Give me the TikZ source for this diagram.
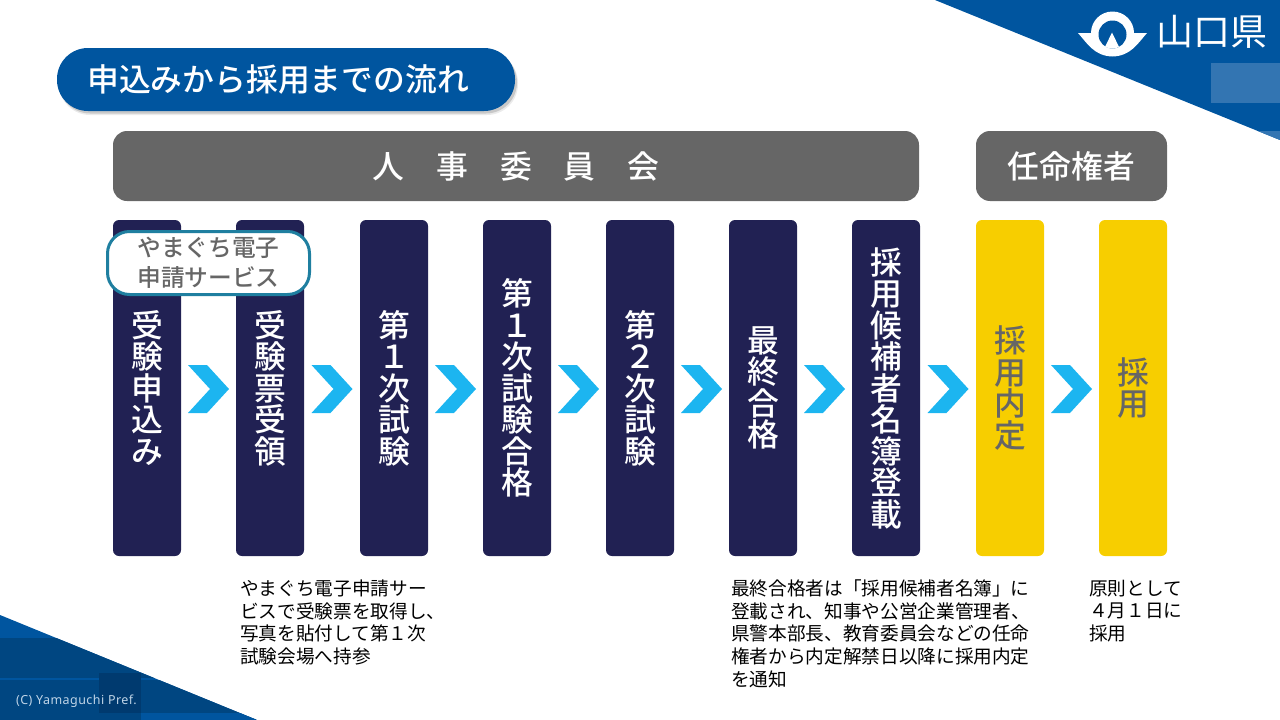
\documentclass[tikz,border=0pt]{standalone}
\usepackage{fontspec}
\setmainfont{Noto Sans CJK JP}[BoldFont={Noto Sans CJK JP Medium}]
\newfontfamily\latinf{Noto Sans}[LetterSpace=3.6]
\usetikzlibrary{calc}
\definecolor{yblue}{HTML}{00559F}
\definecolor{ylight}{HTML}{3375B2}
\definecolor{ydark}{HTML}{004681}
\definecolor{ydarker}{HTML}{003A6F}
\definecolor{navybox}{HTML}{212153}
\definecolor{yellowbox}{HTML}{F7CE00}
\definecolor{graybox}{HTML}{666666}
\definecolor{chev}{HTML}{1CB5F0}
\definecolor{teal}{HTML}{1F7FA0}
\newcommand{\tightlines}{\lineskiplimit=-100pt\relax}
\tikzset{
  x=1pt,y=-1pt,
  bigfont/.style={font=\fontsize{31.8}{31.5}\selectfont\bfseries\tightlines},
  stepbox/.style={bigfont,minimum width=68pt,minimum height=336pt,inner sep=0pt,rounded corners=6pt,align=center},
  navy/.style={stepbox,fill=navybox,text=white},
  gold/.style={stepbox,fill=yellowbox,text=graybox},
  header/.style={fill=graybox,text=white,rounded corners=14pt,inner sep=0pt,minimum height=70pt,bigfont},
  note/.style={anchor=north west,inner sep=0pt,align=left,text=black,font=\fontsize{18.65}{22.7}\selectfont\tightlines},
  chevron/.pic={\fill[chev] (-20.5,-24) -- (-1.5,-24) -- (20.5,0) -- (-1.5,24) -- (-20.5,24) -- (1.5,0) -- cycle;}
}
\begin{document}
\begin{tikzpicture}
\useasboundingbox (0,0) rectangle (1280,720);
% top right corner
\begin{scope}
\clip (935,0) -- (1280,140) -- (1280,0) -- cycle;
\fill[yblue] (900,0) rectangle (1280,140);
\fill[ylight] (1211,63) rectangle (1280,103);
\fill[ylight] (1211,131) rectangle (1280,145);
\end{scope}
% logo
\fill[white] (1078,33) -- (1091,33) arc[start angle=180,end angle=360,radius=21.5] -- (1147,33)
  .. controls (1138,43) and (1131,56) .. (1112.5,56.5) .. controls (1094,56) and (1087,43) .. cycle;
\fill[yblue] (1112.5,34.5) circle[radius=14];
\fill[white] (1112,32.5) -- (1119,47) .. controls (1115,49) and (1110,49) .. (1105,47) -- cycle;
\node[inner sep=0pt,text=white,font=\fontsize{37}{37}\selectfont] (logotext) at (1212,32) {山口県};
% bottom left corner
\begin{scope}
\clip (0,615) -- (257,720) -- (0,720) -- cycle;
\fill[yblue] (0,610) rectangle (257,720);
\fill[ydark] (0,638) rectangle (257,678);
\fill[ydark] (0,680) rectangle (257,720);
\fill[ydarker] (99,673) rectangle (141,713);
\fill[yblue] (141,713) rectangle (257,720);
\end{scope}
\node[inner sep=0pt,anchor=west,text=white!75!yblue,font=\latinf\fontsize{12.5}{12.5}\selectfont] (copy) at (16,701) {(C) Yamaguchi Pref.};
% title
\fill[black,opacity=.08,rounded corners=31pt] (59,52) rectangle (518,115);
\fill[black,opacity=.15,rounded corners=31pt] (59,51) rectangle (517,113.5);
\node[fill=yblue,text=white,rounded corners=31pt,minimum width=458pt,minimum height=63pt,inner sep=0pt,
  bigfont] (title) at (286,79.5) {申込みから採用までの流れ\hspace*{16pt}};
% headers
\node[header,minimum width=806pt] (h1) at (516,166) {人　事　委　員　会};
\node[header,minimum width=191pt] (h2) at (1071.5,166) {任命権者};
% steps
\node[navy] (a1) at (147,388) {受\\験\\申\\込\\み};
\node[navy] (a2) at (270,388) {受\\験\\票\\受\\領};
\node[navy] (a3) at (394,388) {第\\１\\次\\試\\験};
\node[navy] (a4) at (517,388) {第\\１\\次\\試\\験\\合\\格};
\node[navy] (a5) at (640,388) {第\\２\\次\\試\\験};
\node[navy] (a6) at (763,388) {最\\終\\合\\格};
\node[navy] (a7) at (886,388) {採\\用\\候\\補\\者\\名\\簿\\登\\載};
\node[gold] (a8) at (1010,388) {採\\用\\内\\定};
\node[gold] (a9) at (1133,388) {採\\用};
% chevrons
\foreach \p/\q in {a1/a2,a2/a3,a3/a4,a4/a5,a5/a6,a6/a7,a7/a8,a8/a9}
  \pic at ($(\p.east)!.5!(\q.west)+(0,1)$) {chevron};
% service pill
\node[draw=teal,line width=3pt,fill=white,text=graybox,rounded corners=22pt,minimum width=202pt,minimum height=63pt,inner sep=0pt,
  align=center,font=\fontsize{23.7}{30}\selectfont\bfseries\tightlines] (pill) at (208.5,263) {\raisebox{1pt}{やまぐち電子}\\\raisebox{1pt}{申請サービス}};
% notes
\node[note] (n1) at (240,579.5) {やまぐち電子申請サー\\ビスで受験票を取得し、\\写真を貼付して第１次\\試験会場へ持参};
\node[note] (n2) at (731,579.5) {最終合格者は「採用候補者名簿」に\\登載され、知事や公営企業管理者、\\県警本部長、教育委員会などの任命\\権者から内定解禁日以降に採用内定\\を通知};
\node[note] (n3) at (1089,579.5) {原則として\\４月１日に\\採用};
\end{tikzpicture}
\end{document}
